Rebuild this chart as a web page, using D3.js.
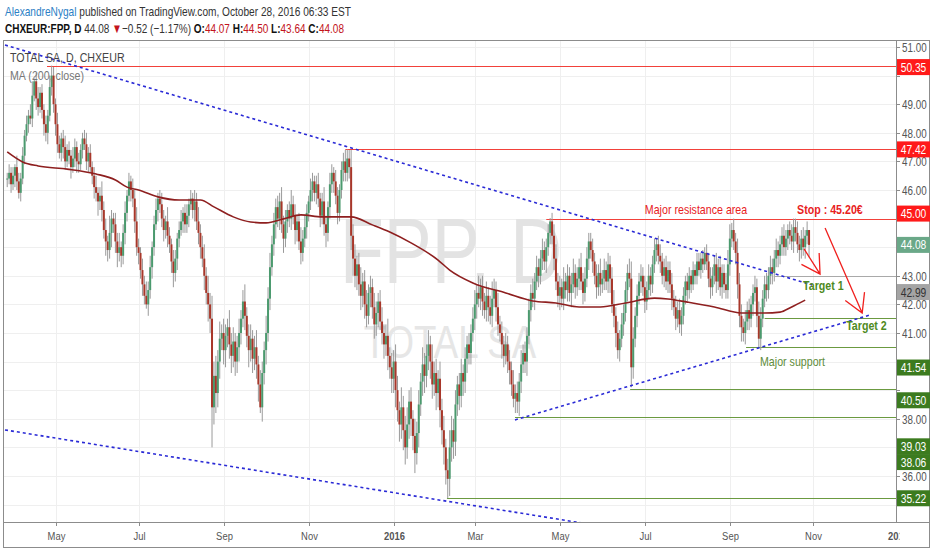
<!DOCTYPE html>
<html><head><meta charset="utf-8">
<script src="https://cdn.jsdelivr.net/npm/d3@7"></script>
<style>body{margin:0;background:#fff}svg{display:block}</style>
</head><body>
<svg id="chart" width="932" height="550"></svg>
<script>
// ---------------- DATA ----------------
const firstBarDate = "2015-03-27";
const closes = [
46.4,46.6,46.2,46.5,46.8,46.3,45.9,46.4,47.2,47.9,
48.3,48.6,48.5,49.3,49.8,49.2,48.9,49.4,48.8,48.3,
48.0,48.6,49.6,50.0,49.0,48.3,47.6,47.3,47.8,47.5,
47.0,47.4,47.2,46.8,47.1,47.5,47.0,46.9,47.4,47.8,
47.6,47.0,47.3,46.8,46.5,46.1,45.9,45.6,45.8,45.3,
44.6,44.2,43.9,44.5,45.0,44.8,44.2,43.8,44.0,43.7,
44.5,45.2,45.8,46.3,46.0,45.7,44.9,44.0,43.8,43.2,
42.7,42.3,42.0,42.5,43.3,44.0,44.8,45.3,45.7,45.5,
45.0,44.6,44.9,44.4,44.1,43.5,43.1,43.6,44.3,44.6,
44.9,45.2,44.8,45.1,45.5,45.7,45.3,45.6,44.9,44.5,
44.0,43.6,43.0,42.4,42.0,41.5,38.4,39.5,38.9,40.0,
40.8,41.0,40.4,40.9,41.2,40.6,40.2,40.7,40.0,40.5,
41.0,41.5,42.1,41.6,40.9,40.4,40.8,40.1,40.5,39.9,
39.2,38.4,39.6,40.4,41.0,42.2,43.3,44.1,44.8,45.4,
45.0,45.6,44.8,44.3,44.9,45.3,45.0,45.5,45.1,44.6,
44.9,44.2,43.8,44.3,44.7,45.2,45.6,46.0,46.3,45.9,
46.2,45.7,45.1,45.6,44.8,44.5,45.4,46.2,46.6,46.3,
45.8,45.2,46.0,46.7,47.0,46.6,47.1,46.8,44.4,43.6,
43.0,43.4,42.7,42.3,42.8,42.0,41.6,42.4,42.6,41.9,
41.3,41.7,42.1,41.4,41.0,40.6,40.9,40.2,39.8,39.4,
40.0,39.0,38.3,37.8,38.4,37.6,37.0,37.8,38.6,38.0,
37.4,36.8,37.5,38.5,39.3,39.9,39.5,40.2,40.6,40.0,
39.2,39.6,38.9,39.4,38.3,37.6,37.0,36.2,35.9,37.0,
37.6,37.2,38.5,39.2,38.8,39.6,39.3,40.1,40.6,40.3,
41.0,41.5,42.0,42.4,42.2,42.6,42.1,41.8,42.3,41.9,
41.6,42.2,42.5,41.9,41.3,41.0,40.6,40.2,40.6,40.0,
39.7,39.2,38.7,38.9,38.6,39.3,39.9,40.3,40.0,40.9,
41.8,42.4,42.2,42.8,43.3,43.0,43.6,43.9,43.5,44.0,
44.5,44.9,44.4,43.6,42.8,42.3,42.6,42.2,42.8,42.5,
43.0,42.4,42.7,43.1,42.6,42.9,43.3,42.8,42.4,42.9,
43.6,44.2,43.9,43.5,43.0,42.6,43.1,42.7,42.9,43.2,
42.8,43.4,42.9,42.0,41.6,41.0,40.4,40.8,41.3,41.7,
42.5,43.1,42.9,39.8,40.8,41.6,42.3,42.8,43.0,42.6,
42.1,42.5,43.0,42.7,43.4,43.9,44.1,43.7,43.5,43.0,
43.3,42.8,43.2,42.7,42.2,41.9,41.5,41.8,41.3,41.6,
42.3,42.8,42.5,43.0,42.7,43.2,43.0,43.5,43.2,43.6,
43.4,43.8,43.5,42.9,42.6,43.0,43.4,42.8,43.3,42.6,
43.1,42.7,42.5,43.4,44.3,44.6,44.2,43.8,42.7,41.6,
41.2,41.0,41.4,41.8,41.5,42.0,42.4,42.6,41.6,40.8,
41.5,42.2,42.7,42.5,43.0,43.3,43.1,43.6,43.9,43.7,
44.1,44.4,44.0,44.3,44.6,44.4,44.2,44.7,44.5,44.1,
43.9,44.3,44.0,44.4,44.6,44.08
];
const upperWicks = [
0.2,0.3,0.2,0.3,0.1,0.4,0.3,0.2,0.3,0.2,0.3,0.2,0.4,0.5,0.1,0.3,0.4,0.2,0.3,0.2,
0.3,0.2,0.4,0.35,0.3,0.2,0.4,0.3,0.2,0.3,0.4,0.2,0.3,0.2,0.4,0.3,0.2,0.3,0.2,0.2,
0.3,0.4,0.2,0.3,0.2,0.3,0.4,0.2,0.3,0.5,0.3,0.4,0.2,0.6,0.3,0.2,0.4,0.3,0.5,0.2,
0.3,0.4,0.2,0.3,0.2,0.4,0.3,0.5,0.3,0.2,0.4,0.3,0.5,0.3,0.4,0.2,0.3,0.4,0.2,0.3,
0.4,0.3,0.2,0.5,0.3,0.2,0.4,0.3,0.2,0.3,0.4,0.2,0.3,0.4,0.2,0.3,0.2,0.4,0.3,0.5,
0.3,0.4,0.5,0.3,0.6,0.4,0.8,0.5,0.7,0.4,0.6,0.3,0.5,0.4,0.3,0.6,0.4,0.5,0.3,0.4,
0.5,0.3,0.4,0.6,0.3,0.4,0.5,0.3,0.4,0.6,0.3,0.5,0.4,0.3,0.6,0.4,0.5,0.3,0.4,0.3,
0.4,0.3,0.5,0.3,0.4,0.2,0.3,0.5,0.3,0.4,0.2,0.3,0.5,0.3,0.4,0.3,0.2,0.4,0.3,0.2,
0.3,0.4,0.2,0.3,0.5,0.3,0.2,0.4,0.3,0.2,0.4,0.3,0.2,0.3,0.3,0.4,0.32,0.3,0.6,0.4,
0.5,0.3,0.4,0.6,0.3,0.4,0.5,0.3,0.4,0.3,0.5,0.4,0.3,0.4,0.5,0.3,0.4,0.6,0.3,0.5,
0.4,0.6,0.5,0.3,0.7,0.4,0.5,0.6,0.4,0.5,0.3,0.6,0.4,0.5,0.3,0.6,0.4,0.4,0.5,0.3,
0.6,0.4,0.5,0.3,0.6,0.4,0.5,0.3,0.4,0.6,0.5,0.4,0.5,0.3,0.4,0.5,0.3,0.4,0.3,0.4,
0.3,0.4,0.5,0.3,0.6,0.3,0.4,0.3,0.5,0.3,0.4,0.6,0.4,0.3,0.5,0.3,0.4,0.3,0.4,0.3,
0.4,0.3,0.5,0.3,0.4,0.3,0.5,0.3,0.4,0.3,0.4,0.3,0.5,0.3,0.4,0.3,0.3,0.4,0.3,0.3,
0.3,0.12,0.3,0.4,0.5,0.3,0.4,0.3,0.5,0.3,0.4,0.3,0.4,0.5,0.3,0.4,0.3,0.5,0.3,0.4,
0.4,0.3,0.3,0.4,0.3,0.4,0.3,0.5,0.3,0.4,0.3,0.4,0.3,0.4,0.5,0.3,0.4,0.3,0.4,0.3,
0.3,0.3,0.5,0.6,0.4,0.3,0.4,0.3,0.4,0.3,0.4,0.3,0.4,0.3,0.3,0.4,0.2,0.3,0.4,0.3,
0.3,0.4,0.3,0.3,0.4,0.3,0.4,0.3,0.4,0.3,0.3,0.2,0.3,0.3,0.2,0.3,0.2,0.3,0.3,0.2,
0.3,0.2,0.3,0.3,0.4,0.3,0.3,0.4,0.3,0.4,0.3,0.3,0.4,0.5,0.5,0.25,0.4,0.3,0.5,0.4,
0.4,0.3,0.4,0.3,0.4,0.3,0.3,0.4,0.3,0.5,0.4,0.3,0.3,0.4,0.3,0.4,0.3,0.3,0.4,0.3,
0.3,0.3,0.4,0.3,0.2,0.3,0.4,0.3,0.3,0.4,0.3,0.3,0.4,0.2,0.3,0.0
];
const lowerWicks = [
0.3,0.2,0.3,0.2,0.4,0.3,0.2,0.3,0.2,0.3,0.2,0.3,0.2,0.3,0.2,0.4,0.3,0.2,0.3,0.4,
0.3,0.4,0.2,0.3,0.3,0.4,0.3,0.2,0.3,0.4,0.3,0.2,0.3,0.4,0.2,0.3,0.4,0.3,0.2,0.3,
0.2,0.3,0.4,0.2,0.3,0.4,0.3,0.5,0.3,0.4,0.3,0.5,0.4,0.3,0.5,0.3,0.4,0.5,0.3,0.4,
0.3,0.4,0.3,0.2,0.4,0.3,0.4,0.3,0.4,0.3,0.4,0.3,0.15,0.4,0.3,0.4,0.3,0.2,0.4,0.3,
0.3,0.4,0.3,0.4,0.3,0.4,0.5,0.3,0.4,0.3,0.2,0.4,0.3,0.3,0.4,0.2,0.3,0.4,0.3,0.4,
0.4,0.3,0.5,0.4,0.6,0.5,1.4,0.6,0.7,0.5,0.6,0.4,0.5,0.6,0.4,0.5,0.6,0.4,0.5,0.4,
0.5,0.4,0.3,0.5,0.4,0.6,0.4,0.5,0.4,0.5,0.6,0.2,0.5,0.4,0.5,0.3,0.4,0.3,0.4,0.5,
0.3,0.4,0.3,0.5,0.3,0.4,0.3,0.4,0.3,0.5,0.4,0.3,0.4,0.3,0.3,0.4,0.3,0.3,0.4,0.3,
0.4,0.3,0.4,0.3,0.4,0.5,0.3,0.4,0.3,0.4,0.3,0.4,0.3,0.3,0.4,0.3,0.3,0.4,0.5,0.6,
0.4,0.5,0.4,0.5,0.4,0.5,0.4,0.3,0.5,0.4,0.5,0.4,0.5,0.3,0.4,0.5,0.4,0.5,0.4,0.5,
0.5,0.6,0.4,0.6,0.5,0.7,0.6,0.4,0.5,0.6,0.5,0.7,0.4,0.5,0.4,0.5,0.6,0.4,0.5,0.6,
0.5,0.4,0.6,0.5,0.6,0.5,0.6,0.5,0.68,0.6,0.5,0.6,0.5,0.4,0.5,0.4,0.5,0.4,0.5,0.4,
0.4,0.3,0.4,0.5,0.3,0.4,0.5,0.3,0.4,0.5,0.3,0.4,0.3,0.5,0.4,0.3,0.5,0.4,0.3,0.4,
0.5,0.4,0.3,0.5,0.4,0.5,0.4,0.3,0.4,0.5,0.3,0.4,0.3,0.4,0.3,0.4,0.3,0.4,0.3,0.4,
0.3,0.4,0.3,0.4,0.3,0.4,0.5,0.3,0.4,0.3,0.4,0.3,0.5,0.3,0.4,0.3,0.4,0.3,0.4,0.3,
0.3,0.4,0.3,0.4,0.3,0.4,0.3,0.4,0.3,0.4,0.3,0.4,0.5,0.3,0.4,0.5,0.3,0.4,0.3,0.4,
0.3,0.4,0.3,0.7,0.4,0.3,0.4,0.3,0.4,0.3,0.4,0.3,0.3,0.4,0.3,0.3,0.4,0.3,0.4,0.3,
0.4,0.3,0.4,0.3,0.4,0.3,0.4,0.3,0.3,0.4,0.3,0.3,0.4,0.3,0.3,0.2,0.3,0.3,0.2,0.3,
0.3,0.2,0.3,0.3,0.4,0.3,0.3,0.4,0.3,0.3,0.4,0.3,0.3,0.3,0.4,0.3,0.3,0.4,0.5,0.4,
0.5,0.3,0.4,0.3,0.4,0.3,0.4,0.3,0.4,0.3,0.4,0.3,0.3,0.4,0.3,0.3,0.4,0.3,0.3,0.4,
0.3,0.4,0.3,0.3,0.4,0.3,0.3,0.4,0.3,0.3,0.4,0.3,0.3,0.4,0.3,0.44
];
// MA(200, close): bar index and value
const maBars   = [0,8,16,31,46,56,62,68,78,89,100,107,117,126,134,143,152,163,178,189,198,209,223,229,241,258,272,284,296,307,320,335,342,352,366,380,392,400,406,413];
const maValues = [47.33,46.98,46.84,46.73,46.56,46.35,46.10,46.0,45.76,45.65,45.65,45.41,45.06,44.88,44.85,44.99,45.13,45.06,45.06,44.78,44.53,44.15,43.55,43.2,42.75,42.40,42.12,42.05,41.91,41.91,42.05,42.22,42.19,42.08,41.91,41.70,41.70,41.73,41.91,42.15];
const priceTicks = [35,36,37,38,39,40,41,42,43,44,45,46,47,48,49,50,51];
// horizontal levels drawn on the chart
const levelValues   = [50.35, 47.42, 45.00, 42.99, 41.54, 40.50, 39.03, 38.06, 35.22];
const levelStartBar = [20.6, 175, 279, 397.4, 392, 382.4, 322.4, 262.8, 227.6];
const levelKinds    = ["res","res","res","tgt","sup","sup","sup","sup","sup"];
const lastPrice = 44.08;
// trend lines [bar, price] -> [bar, price]
const trendFrom = [[-1.14, 51.07], [-1.14, 37.61], [262.8, 37.96]];
const trendTo   = [[416.6, 42.68], [330, 34.0],   [446.6, 41.63]];
// arrows
const arrowFrom = [[412.4, 43.94], [423.3, 44.67]];
const arrowTo   = [[420.7, 43.06], [442.5, 41.70]];
// annotations
const noteTexts  = ["Major resistance area", "Stop : 45.20€", "Target 1", "Target 2", "Major support"];
const noteBars   = [356.5, 408.8, 411.9, 434.2, 389.6];
const notePrices = [45.16, 45.16, 42.50, 41.10, 39.85];

// ---------------- LAYOUT ----------------
const plot = {left: 4, right: 896, top: 40, bottom: 522};
const SX = 0.82;
const FONT = "'Liberation Sans', Arial, sans-serif";
const svg = d3.select("#chart");

const x = d3.scaleLinear().domain([-1.66, 460]).range([plot.left, plot.right]);
const y = d3.scaleLinear().domain([34.39, 51.245]).range([plot.bottom, plot.top]);

// trading-day calendar
const dates = [];
{ let d = new Date(firstBarDate + "T12:00:00"); while (dates.length < 480) { const w = d.getDay(); if (w !== 0 && w !== 6) dates.push(new Date(d)); d.setDate(d.getDate() + 1); } }
const monthTicks = [];
for (let i = 1; i < dates.length; i++) {
  if (dates[i].getMonth() !== dates[i-1].getMonth() && dates[i].getMonth() % 2 === 0) {
    const isYear = dates[i].getMonth() === 0;
    monthTicks.push({i, label: isYear ? d3.timeFormat("%Y")(dates[i]) : d3.timeFormat("%b")(dates[i]), year: isYear});
  }
}

function txt(parent, px, py, size, opts = {}) {
  return parent.append("text")
    .attr("transform", `translate(${px},${py}) scale(${opts.sx || SX},1)`)
    .attr("font-family", FONT).attr("font-size", size)
    .attr("text-anchor", opts.anchor || "start")
    .attr("font-weight", opts.bold ? "bold" : "normal")
    .attr("fill", opts.fill || "#333");
}

svg.append("rect").attr("width", 932).attr("height", 550).attr("fill", "#fff");

// header
const h1 = txt(svg, 5, 16, 13, {sx: 0.78});
h1.append("tspan").attr("fill", "#2b80c5").text("AlexandreNygal");
h1.append("tspan").attr("fill", "#333").text(" published on TradingView.com, October 28, 2016 06:33 EST");
const h2 = txt(svg, 5, 33, 13, {sx: 0.77});
h2.append("tspan").attr("font-weight", "bold").attr("fill", "#111").text("CHXEUR:FPP, D");
h2.append("tspan").attr("fill", "#333").text(" 44.08 ");
h2.append("tspan").attr("fill", "#c3141c").text("▼");
h2.append("tspan").attr("fill", "#333").text("−0.52 (−1.17%) ");
[["O:","44.07"],["H:","44.50"],["L:","43.64"],["C:","44.08"]].forEach(([k,v],j) => {
  h2.append("tspan").attr("font-weight","bold").attr("fill","#111").text((j? " ":"") + k);
  h2.append("tspan").attr("fill","#c3141c").text(v);
});

// clip
svg.append("defs").append("clipPath").attr("id","plotClip").append("rect")
  .attr("x", plot.left).attr("y", plot.top).attr("width", plot.right - plot.left).attr("height", plot.bottom - plot.top);
svg.select("defs").append("clipPath").attr("id","xaxClip").append("rect")
  .attr("x", 0).attr("y", plot.bottom).attr("width", 899.5).attr("height", 30);

const g = svg.append("g").attr("clip-path", "url(#plotClip)");

// grid
g.selectAll(".hg").data(priceTicks).join("line")
  .attr("x1", plot.left).attr("x2", plot.right)
  .attr("y1", d => Math.round(y(d)) + 0.5).attr("y2", d => Math.round(y(d)) + 0.5)
  .attr("stroke", "#efefef");
g.selectAll(".vg").data(monthTicks).join("line")
  .attr("x1", d => Math.round(x(d.i)) + 0.5).attr("x2", d => Math.round(x(d.i)) + 0.5)
  .attr("y1", plot.top).attr("y2", plot.bottom).attr("stroke", "#efefef");

// watermark
txt(g, 451, 283, 92, {anchor: "middle", fill: "#e3e3e3", sx: 0.78}).text("FPP, D");
txt(g, 450, 358, 47, {anchor: "middle", fill: "#e6e6e6", sx: 0.78}).text("TOTAL SA");

// horizontal levels
const levelColor = {res: "#f2413a", tgt: "#a9a9a9", sup: "#6b9a40"};
g.selectAll(".lvl").data(levelValues).join("line")
  .attr("x1", (d, k) => x(levelStartBar[k])).attr("x2", plot.right)
  .attr("y1", d => Math.round(y(d)) + 0.5).attr("y2", d => Math.round(y(d)) + 0.5)
  .attr("stroke", (d, k) => levelColor[levelKinds[k]]).attr("stroke-width", 1);

// candles
const bars = closes.map((c, i) => {
  const o = i === 0 ? c : closes[i - 1];
  return {i, o, c, h: Math.max(o, c) + upperWicks[i], l: Math.min(o, c) - lowerWicks[i]};
});
g.selectAll(".wick").data(bars).join("line")
  .attr("x1", d => x(d.i)).attr("x2", d => x(d.i))
  .attr("y1", d => y(d.h)).attr("y2", d => y(d.l))
  .attr("stroke", "#9a9a9a").attr("stroke-width", 1);
g.selectAll(".body").data(bars).join("rect")
  .attr("x", d => x(d.i) - 1).attr("width", 2)
  .attr("y", d => y(Math.max(d.o, d.c)))
  .attr("height", d => Math.max(1, Math.abs(y(d.o) - y(d.c))))
  .attr("fill", d => d.c >= d.o ? "#4b9a6e" : "#a8372a");

// MA
const maLine = d3.line().x(d => x(d[0])).y(d => y(d[1])).curve(d3.curveMonotoneX);
g.append("path").datum(maBars.map((b, k) => [b, maValues[k]]))
  .attr("d", maLine).attr("fill", "none").attr("stroke", "#8e1f1f").attr("stroke-width", 1.6);

// trend lines
g.selectAll(".trend").data(trendFrom).join("line")
  .attr("x1", d => x(d[0])).attr("y1", d => y(d[1]))
  .attr("x2", (d, k) => x(trendTo[k][0])).attr("y2", (d, k) => y(trendTo[k][1]))
  .attr("stroke", "#2a2ad6").attr("stroke-width", 1.6).attr("stroke-dasharray", "3,3");

// arrows
arrowFrom.forEach((f, k) => {
  const x1 = x(f[0]), y1 = y(f[1]), x2 = x(arrowTo[k][0]), y2 = y(arrowTo[k][1]);
  const ang = Math.atan2(y1 - y2, x1 - x2), L = 21, a = Math.PI / 6;
  const path = `M${x1},${y1}L${x2},${y2}M${x2 + L*Math.cos(ang - a)},${y2 + L*Math.sin(ang - a)}L${x2},${y2}L${x2 + L*Math.cos(ang + a)},${y2 + L*Math.sin(ang + a)}`;
  g.append("path").attr("d", path).attr("fill", "none").attr("stroke", "#f0201e").attr("stroke-width", 1.3);
});

// annotations
const noteStyle = [
  {fill: "#e8211d", anchor: "middle"},
  {fill: "#e8211d", bold: true},
  {fill: "#4f8a22", bold: true},
  {fill: "#4f8a22", bold: true},
  {fill: "#5e8c3a"}
];
noteTexts.forEach((t, k) => txt(g, x(noteBars[k]), y(notePrices[k]), 13, noteStyle[k]).text(t));

// legend
txt(svg, 10, 62, 13, {fill: "#444"}).text("TOTAL SA, D, CHXEUR");
txt(svg, 10, 80, 13, {fill: "#777"}).text("MA (200, close)");

// frame
svg.append("rect").attr("x", 3.5).attr("y", 40.5).attr("width", 926).attr("height", 507)
  .attr("fill", "none").attr("stroke", "#8c8c8c");
svg.append("line").attr("x1", plot.right + 0.5).attr("x2", plot.right + 0.5).attr("y1", 40).attr("y2", plot.bottom)
  .attr("stroke", "#8c8c8c");
svg.append("line").attr("x1", 3.5).attr("x2", 930).attr("y1", plot.bottom + 0.5).attr("y2", plot.bottom + 0.5)
  .attr("stroke", "#8c8c8c");

// price labels on the right scale (positions first, so covered ticks can be skipped)
const labelShift = [1.5, 0, -5, 16, 50, 53, 57, 45, 0];
const labelBg = {res: "#ff1a1a", tgt: "#a4a4a4", sup: "#3c7b1f"};
const labelFg = {res: "#fff", tgt: "#333", sup: "#fff"};
const labels = [{v: lastPrice, cy: y(lastPrice), bg: "#6aa888", fg: "#fff"}]
  .concat(levelValues.map((v, k) => ({v, cy: y(v) + labelShift[k], bg: labelBg[levelKinds[k]], fg: labelFg[levelKinds[k]]})));

// y axis (right) ticks
const yax = svg.append("g");
priceTicks.forEach(p => {
  const py = Math.round(y(p)) + 0.5;
  yax.append("line").attr("x1", plot.right).attr("x2", plot.right + 4).attr("y1", py).attr("y2", py).attr("stroke", "#8c8c8c");
  if (labels.some(l => Math.abs(l.cy - py) < 12)) return;
  txt(yax, 902, py + 4, 12, {fill: "#555"}).text(d3.format(".2f")(p));
});

// x axis
const xax = svg.append("g").attr("clip-path", "url(#xaxClip)");
monthTicks.forEach(t => {
  const px = Math.round(x(t.i)) + 0.5;
  if (px < plot.right) xax.append("line").attr("x1", px).attr("x2", px).attr("y1", plot.bottom).attr("y2", plot.bottom + 4).attr("stroke", "#8c8c8c");
  txt(xax, px, 540, 11.5, {anchor: "middle", fill: "#555", bold: t.year}).text(t.label);
});

labels.forEach(l => {
  yax.append("rect").attr("x", plot.right + 1).attr("y", l.cy - 8).attr("width", 33).attr("height", 16).attr("fill", l.bg);
  txt(yax, plot.right + 17.5, l.cy + 4.5, 12.5, {anchor: "middle", fill: l.fg}).text(d3.format(".2f")(l.v));
});
</script>
</body></html>
